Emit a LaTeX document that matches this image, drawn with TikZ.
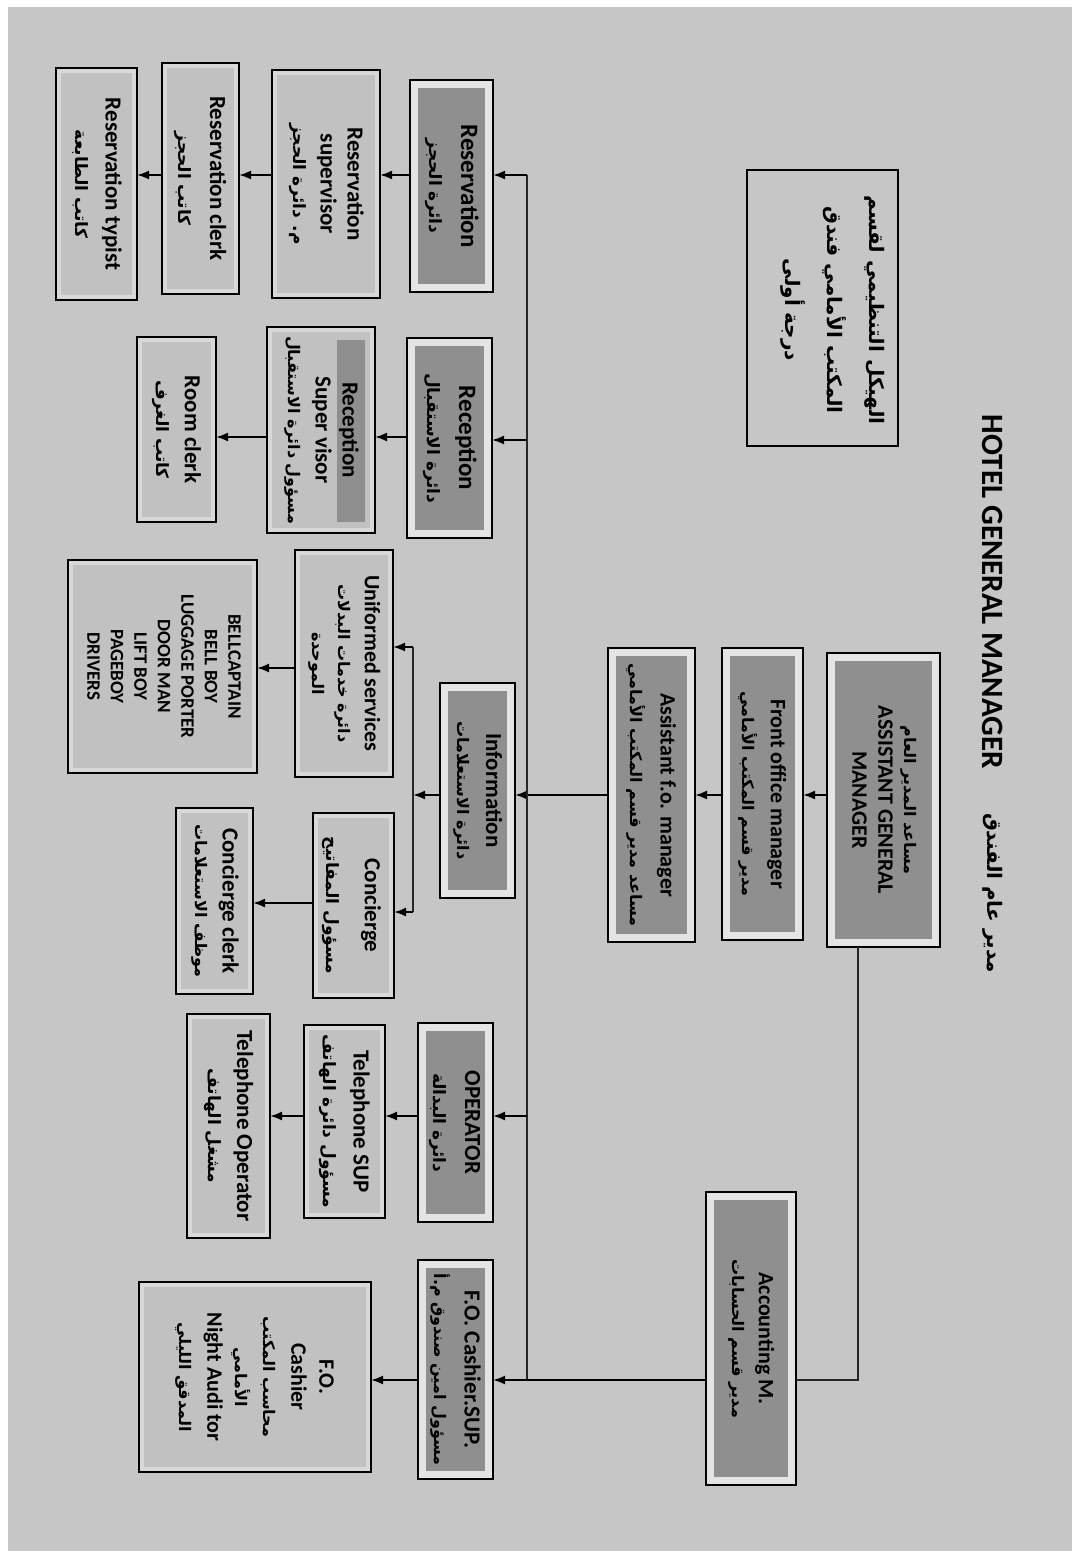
\documentclass[tikz,border=0pt]{standalone}
\usepackage{fontspec}
\usepackage{graphicx}
\setmainfont{Carlito}
\newfontfamily\arfont[Script=Arabic]{DejaVu Sans}
\TeXXeTstate=1
\usetikzlibrary{arrows.meta,calc}

\definecolor{paper}{HTML}{C6C6C6}
\definecolor{deptfill}{HTML}{8F8F8F}
\definecolor{band}{HTML}{E4E4E4}
\definecolor{subfill}{HTML}{C1C1C1}
\definecolor{subband}{HTML}{D8D8D8}

% rotated (top-to-bottom) multi-line label
\newcommand\vt[3]{\rotatebox{-90}{\fontsize{#1}{#2}\selectfont\bfseries\begin{tabular}{@{}c@{}}#3\end{tabular}}}
% bold Arabic face at a given size
\newcommand\arb[1]{\arfont\bfseries\fontsize{#1}{#1}\selectfont}
% box from its left/top/right/bottom pixel edges
\newcommand\bx[7]{\node[#1, minimum width={(#5)-(#3)}, minimum height={(#6)-(#4)}] (#2) at ({((#3)+(#5))/2},{-((#4)+(#6))/2}) {#7};}

\tikzset{
  x=1pt, y=1pt,
  dept/.style={draw=black, line width=2.6pt, fill=band, inner sep=0pt, outer sep=0pt,
    path picture={\fill[deptfill] ([shift={(8,8)}]path picture bounding box.south west)
      rectangle ([shift={(-8,-8)}]path picture bounding box.north east);}},
  sub/.style={draw=black, line width=2.4pt, fill=subband, inner sep=0pt, outer sep=0pt,
    path picture={\fill[subfill] ([shift={(5,5)}]path picture bounding box.south west)
      rectangle ([shift={(-5,-5)}]path picture bounding box.north east);}},
  substrip/.style={draw=black, line width=2.4pt, fill=subband, inner sep=0pt, outer sep=0pt,
    path picture={\fill[subfill] ([shift={(5,5)}]path picture bounding box.south west)
      rectangle ([shift={(-5,-5)}]path picture bounding box.north east);
      \fill[deptfill] ([shift={(-38,-13)}]path picture bounding box.north east)
      rectangle ([shift={(-10,11)}]path picture bounding box.south east);}},
  plain/.style={draw=black, line width=2.4pt, inner sep=0pt, outer sep=0pt},
  link/.style={draw=black!85, line width=1.8pt},
  arr/.style={draw=black, line width=2pt, -{Latex[length=12pt,width=9pt]}},
}

\begin{document}
\begin{tikzpicture}
\useasboundingbox (0,0) rectangle (1080,-1557);
\fill[white] (0,0) rectangle (1080,-1557);
\fill[paper] (8,-7) rectangle (1072,-1551);

% headings
\node[rotate=-90, inner sep=0pt, font={\fontsize{31}{36}\selectfont\bfseries}] (gm) at (993,-592) {HOTEL GENERAL MANAGER};
\node[rotate=-90, inner sep=0pt] (gmar) at (993,-893) {\arb{20}\beginR مدير عام الفندق\endR};
\bx{plain}{ttl}{747}{170}{898}{446}{}
\node[inner sep=0pt] (ttltext) at (836,-310) {\vt{20}{42}{{\arb{20}\beginR الهيكل التنظيمي لقسم\endR}\\ {\arb{20}\beginR المكتب الأمامي فندق\endR}\\ {\arb{20}\beginR درجة أولى\endR}}};

% management line
\bx{dept}{agm}{827}{653}{940}{947}{\vt{22}{26}{{\arb{16}\beginR مساعد المدير العام\endR}\\ ASSISTANT GENERAL\\ MANAGER}}
\bx{dept}{fom}{722}{648}{803}{940}{\vt{22}{28}{Front office manager\\ {\arb{16}\beginR مدير قسم المكتب الأمامي\endR}}}
\bx{dept}{afo}{608}{648}{695}{942}{\vt{22}{30}{Assistant f.o. manager\\ {\arb{16}\beginR مساعد مدير قسم المكتب الأمامي\endR}}}
\bx{dept}{acc}{706}{1192}{796}{1485}{\vt{22}{26}{Accounting M.\\ {\arb{16}\beginR مدير قسم الحسابات\endR}}}

% departments
\bx{dept}{res}{410}{80}{493}{292}{\vt{25}{32}{Reservation\\ {\arb{17}\beginR دائرة الحجز\endR}}}
\bx{dept}{rec}{407}{338}{492}{538}{\vt{25}{32}{Reception\\ {\arb{17}\beginR دائرة الاستقبال\endR}}}
\bx{dept}{info}{440}{683}{515}{898}{\vt{23}{29}{Information\\ {\arb{16}\beginR دائرة الاستعلامات\endR}}}
\bx{dept}{op}{418}{1023}{493}{1222}{\vt{23}{32}{OPERATOR\\ {\arb{17}\beginR دائرة البدالة\endR}}}
\bx{dept}{csup}{418}{1260}{493}{1479}{\vt{23}{30}{F.O. Cashier.SUP.\\ {\arb{16}\beginR مسؤول امين صندوق م.أ\endR}}}

% reservation staff
\bx{sub}{rsup}{272}{70}{380}{298}{\vt{23}{27}{Reservation\\ supervisor\\ {\arb{17}\beginR م. دائرة الحجز\endR}}}
\bx{sub}{rclk}{162}{63}{239}{294}{\vt{23}{32}{Reservation clerk\\ {\arb{17}\beginR كاتب الحجز\endR}}}
\bx{sub}{rtyp}{56}{68}{137}{300}{\vt{23}{30}{Reservation typist\\ {\arb{17}\beginR كاتب الطابعة\endR}}}

% reception staff
\bx{substrip}{rsv}{267}{327}{375}{533}{\vt{23}{27}{Reception\\ Super visor\\ {\arb{16}\beginR مسؤول دائرة الاستقبال\endR}}}
\bx{sub}{room}{137}{337}{216}{522}{\vt{23}{28}{Room clerk\\ {\arb{17}\beginR كاتب الغرف\endR}}}

% information staff
\bx{sub}{uni}{295}{550}{393}{777}{\vt{22}{26}{Uniformed services\\ {\arb{16}\beginR دائرة خدمات البدلات\endR}\\ {\arb{16}\beginR الموحدة\endR}}}
\bx{sub}{bell}{68}{560}{257}{773}{\vt{19}{23.5}{BELLCAPTAIN\\ BELL BOY\\ LUGGAGE PORTER\\ DOOR MAN\\ LIFT BOY\\ PAGEBOY\\ DRIVERS}}
\bx{sub}{con}{313}{813}{394}{998}{\vt{23}{38}{Concierge\\ {\arb{17}\beginR مسؤول المفاتيح\endR}}}
\bx{sub}{cclk}{176}{808}{253}{994}{\vt{23}{27}{Concierge clerk\\ {\arb{16}\beginR موظف الاستعلامات\endR}}}

% operator staff
\bx{sub}{tsup}{304}{1025}{385}{1218}{\vt{23}{30}{Telephone SUP\\ {\arb{17}\beginR مسؤول دائرة الهاتف\endR}}}
\bx{sub}{top}{187}{1014}{270}{1238}{\vt{23}{29}{Telephone Operator\\ {\arb{17}\beginR مشغل الهاتف\endR}}}

% cashier staff
\bx{sub}{cash}{139}{1282}{371}{1472}{\vt{22}{28}{F.O.\\ Cashier\\ {\arb{16}\beginR محاسب المكتب\endR}\\ {\arb{16}\beginR الأمامي\endR}\\ Night Audi tor\\ {\arb{16}\beginR المدقق الليلي\endR}}}

% connector rows and columns
\coordinate (rRes) at (0,-175);
\coordinate (rRec) at (0,-440);
\coordinate (rRecB) at (0,-437);
\coordinate (rUni) at (0,-647);
\coordinate (rUniB) at (0,-668);
\coordinate (rMain) at (0,-795);
\coordinate (rConB) at (0,-903);
\coordinate (rCon) at (0,-912);
\coordinate (rOp) at (0,-1116);
\coordinate (rCas) at (0,-1380);
\coordinate (busX) at (527,0);
\coordinate (ibusX) at (413,0);
\coordinate (accX) at (858,0);

% management chain
\draw[arr] (rMain -| agm.west) -- (rMain -| fom.east);
\draw[arr] (rMain -| fom.west) -- (rMain -| afo.east);
\draw[arr] (rMain -| afo.west) -- (rMain -| info.east);

% main distribution bus
\draw[link] (rRes -| busX) -- (rCas -| busX);
\draw[arr] (rRes -| busX) -- (rRes -| res.east);
\draw[arr] (rRec -| busX) -- (rRec -| rec.east);
\draw[arr] (rOp -| busX) -- (rOp -| op.east);

% accounting branch
\draw[link] (agm.south -| accX) -- (rCas -| accX) -- (rCas -| acc.east);
\draw[arr] (rCas -| acc.west) -- (rCas -| csup.east);

% information branch
\draw[arr] (rMain -| info.west) -- (rMain -| ibusX);
\draw[link] (rUni -| ibusX) -- (rCon -| ibusX);
\draw[arr] (rUni -| ibusX) -- (rUni -| uni.east);
\draw[arr] (rCon -| ibusX) -- (rCon -| con.east);

% staff chains
\draw[arr] (rRes -| res.west) -- (rRes -| rsup.east);
\draw[arr] (rRes -| rsup.west) -- (rRes -| rclk.east);
\draw[arr] (rRes -| rclk.west) -- (rRes -| rtyp.east);
\draw[arr] (rRecB -| rec.west) -- (rRecB -| rsv.east);
\draw[arr] (rRecB -| rsv.west) -- (rRecB -| room.east);
\draw[arr] (rUniB -| uni.west) -- (rUniB -| bell.east);
\draw[arr] (rConB -| con.west) -- (rConB -| cclk.east);
\draw[arr] (rOp -| op.west) -- (rOp -| tsup.east);
\draw[arr] (rOp -| tsup.west) -- (rOp -| top.east);
\draw[arr] (rCas -| csup.west) -- (rCas -| cash.east);
\end{tikzpicture}
\end{document}
